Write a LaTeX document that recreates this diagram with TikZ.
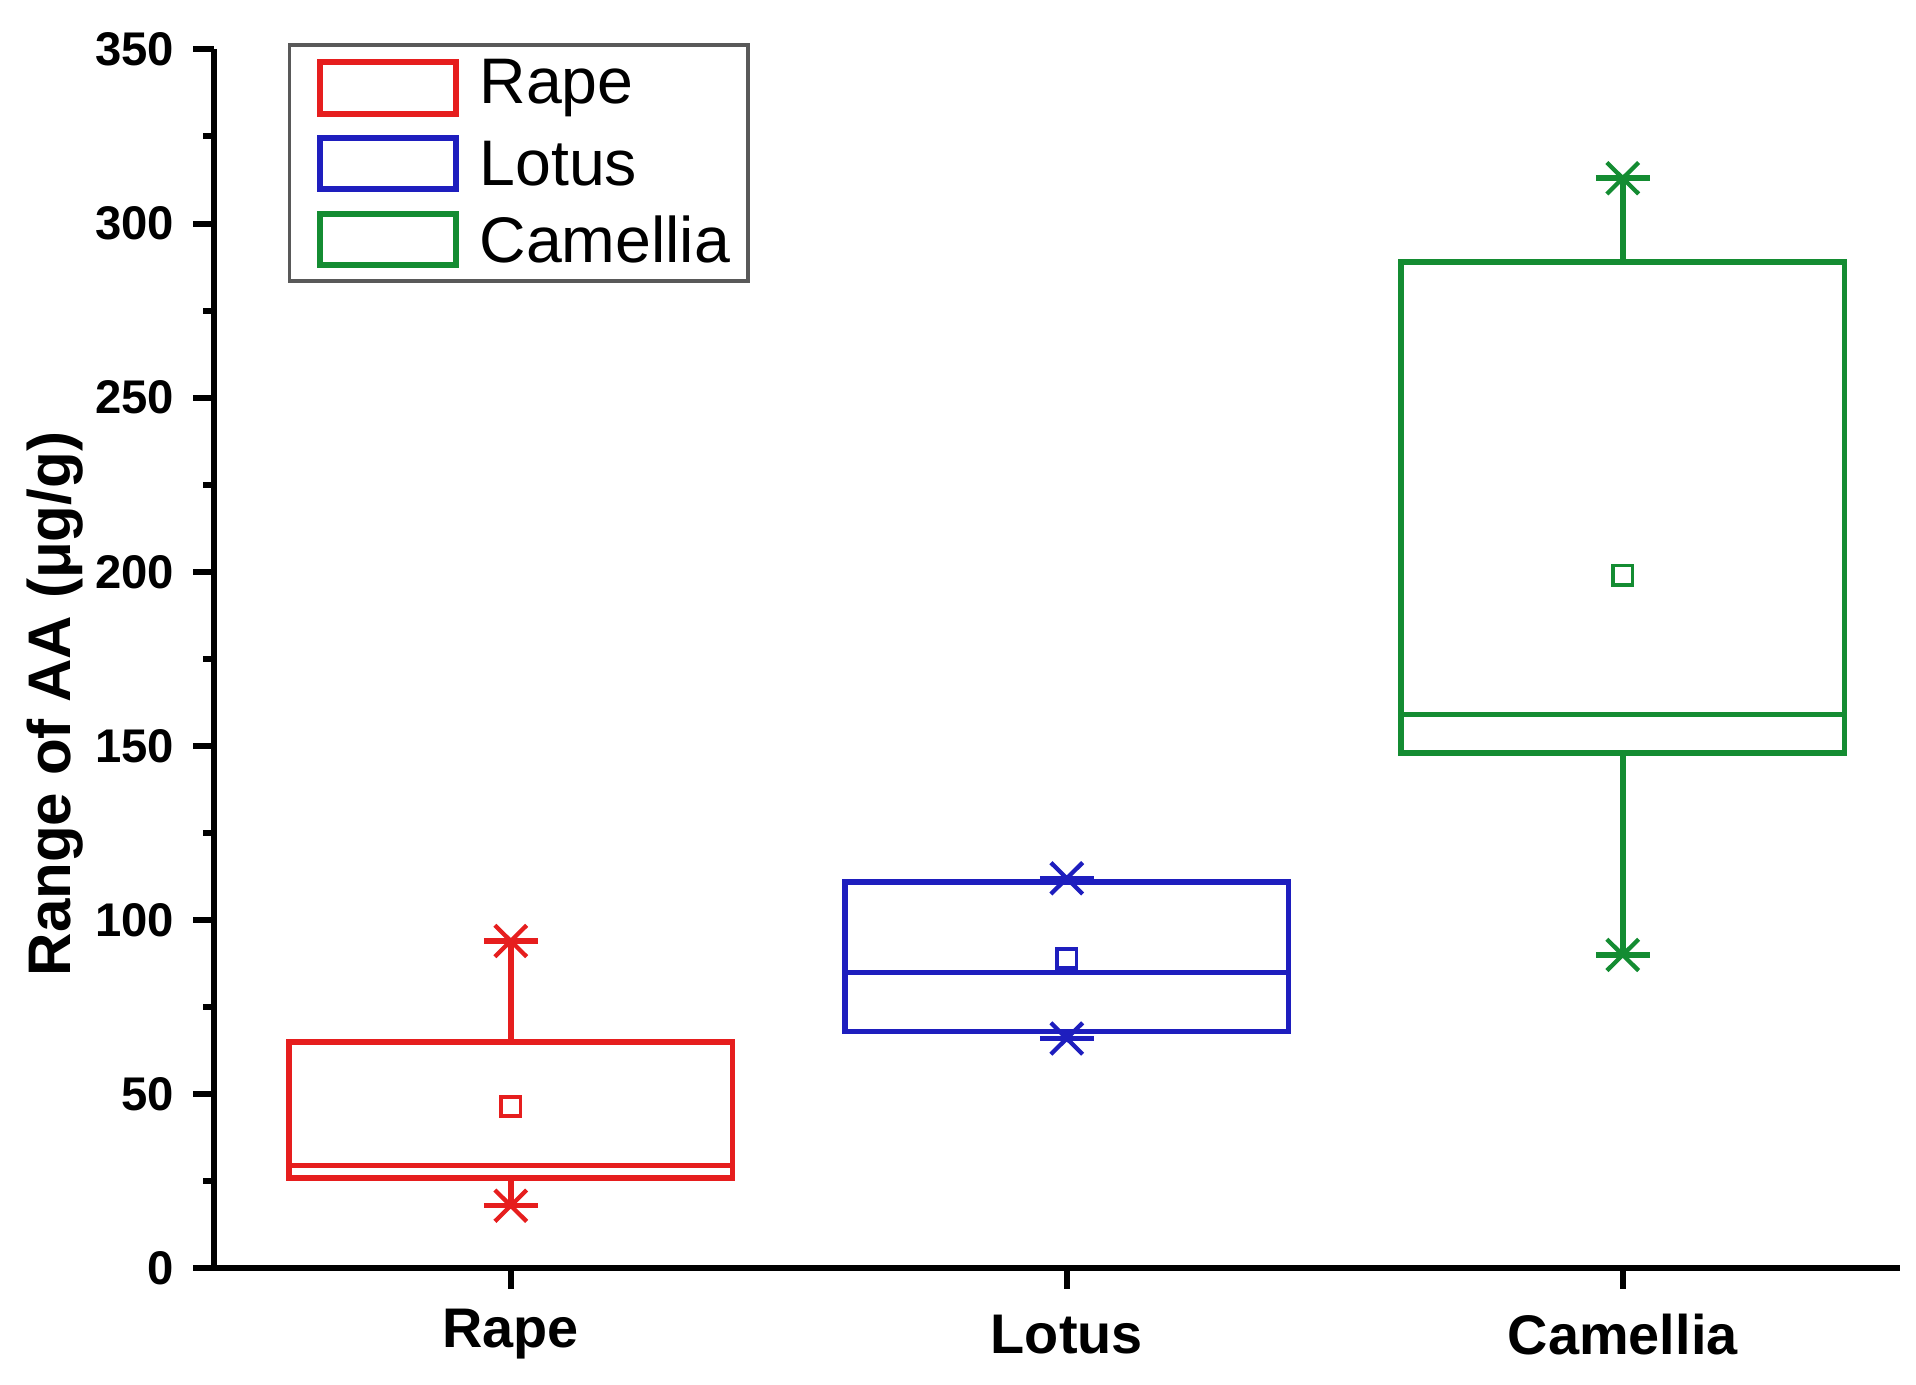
\documentclass[tikz,border=0pt]{standalone}
\usepackage{fontspec}
\setmainfont{Liberation Sans}
\begin{document}
\begin{tikzpicture}[x=1cm,y=1cm,
  bx/.style={line width=1.3pt},
  ax/.style={line width=1.4pt,black},
  tl/.style={font=\bfseries\fontsize{11}{13}\selectfont,anchor=east},
  cl/.style={font=\bfseries\fontsize{13}{15}\selectfont},
  lg/.style={font=\fontsize{15}{18}\selectfont,anchor=west}]
\definecolor{cr}{RGB}{230,30,30}
\definecolor{cb}{RGB}{30,30,190}
\definecolor{cg}{RGB}{20,140,50}
\useasboundingbox (0,0) rectangle (15.68,11.33);
\begin{scope}[shift={(1.75,0.95)},y=0.02851cm]
% axes
\coordinate (o) at (0,0);
\coordinate (xe) at (13.8,0);
\coordinate (ye) at (0,350);
\draw[ax] (ye) -- (o) -- (xe);
\foreach \v in {0,50,...,350}{\draw[ax] (0,\v) -- (-0.17,\v); \node[tl] at (-0.2,\v) {\v};}
\foreach \v in {25,75,...,325}{\draw[ax] (0,\v) -- (-0.09,\v);}
\foreach \x/\n in {2.43/Rape,6.98/Lotus,11.53/Camellia}{\draw[ax] (\x,0) -- (\x,-6); \node[cl] at (\x,-19) {\n};}
\node[rotate=90,font=\bfseries\fontsize{14}{16}\selectfont] at (-1.3,162) {Range of AA (μg/g)};
% box plot macro
\newcommand\mybox[9]{% color, center, min, q1, med, q3, max, mean, capmax
 \begin{scope}[#1,bx]
 \draw (#2-1.815,#4) rectangle (#2+1.815,#6);
 \draw (#2-1.815,#5) -- (#2+1.815,#5);
 \draw (#2,#6) -- (#2,#7); \draw (#2,#4) -- (#2,#3);
 \draw (#2-0.22,#9) -- (#2+0.22,#9);
 \draw[line width=1pt] (#2-0.13,#9-4.5) -- (#2+0.13,#9+4.5) (#2-0.13,#9+4.5) -- (#2+0.13,#9-4.5);
 \draw (#2-0.22,#3) -- (#2+0.22,#3);
 \draw[line width=1pt] (#2-0.13,#3-4.5) -- (#2+0.13,#3+4.5) (#2-0.13,#3+4.5) -- (#2+0.13,#3-4.5);
 \draw[line width=0.9pt] (#2-0.08,#8-2.8) rectangle (#2+0.08,#8+2.8);
 \end{scope}}
\mybox{cr}{2.43}{18}{26}{29.5}{65}{94}{46.5}{94}
\mybox{cb}{6.98}{66}{68}{85}{111}{111}{89}{112}
\mybox{cg}{11.53}{90}{148}{159}{289}{289}{199}{313}
\draw[cg,bx] (11.53,289) -- (11.53,313);
\end{scope}
% legend
\draw[line width=0.8pt,gray!70!black] (2.37,9.03) rectangle (6.12,10.96);
\foreach \c/\t/\y in {cr/Rape/10.61,cb/Lotus/9.99,cg/Camellia/9.37}{
 \draw[\c,line width=1.4pt] (2.62,\y-0.21) rectangle (3.73,\y+0.21);
 \node[lg] at (3.8,\y) {\t};}
\end{tikzpicture}
\end{document}
